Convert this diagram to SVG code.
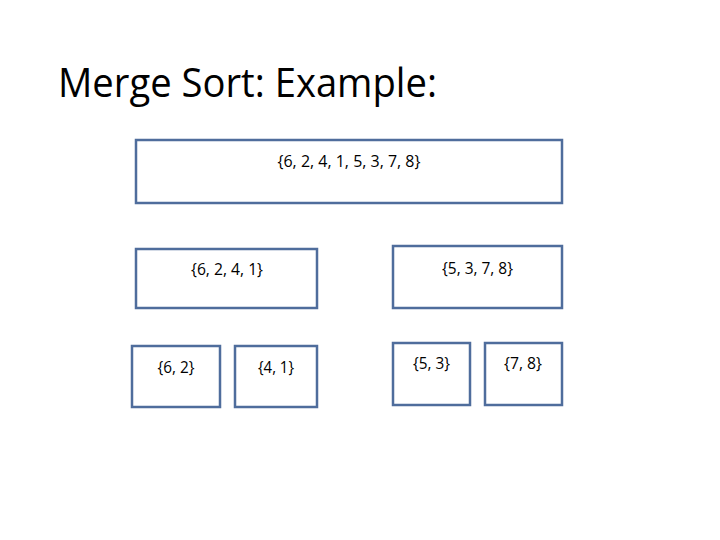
<svg xmlns="http://www.w3.org/2000/svg" width="720" height="540" viewBox="0 0 720 540">
<style>
.box{fill:#ffffff;stroke:#4f6d9c;stroke-width:2.5}
.lbl{font-family:"Open Sans","Liberation Sans",sans-serif;font-size:17px;fill:#000;text-anchor:middle}
.title{font-family:"Open Sans","Liberation Sans",sans-serif;font-size:41px;fill:#000}
</style>
<rect width="720" height="540" fill="#ffffff"/>
<text class="title" x="58" y="97" textLength="379" lengthAdjust="spacingAndGlyphs">Merge Sort: Example:</text>
<g id="connectors"></g>
<g id="n_all">
<rect class="box" x="136" y="140" width="426" height="63"/>
<text class="lbl" x="349" y="167" textLength="143" lengthAdjust="spacingAndGlyphs">{6, 2, 4, 1, 5, 3, 7, 8}</text>
</g>
<g id="n_left">
<rect class="box" x="136" y="249" width="181" height="59"/>
<text class="lbl" x="227" y="275" textLength="72" lengthAdjust="spacingAndGlyphs">{6, 2, 4, 1}</text>
</g>
<g id="n_right">
<rect class="box" x="393" y="246" width="169" height="62"/>
<text class="lbl" x="477.5" y="274" textLength="71" lengthAdjust="spacingAndGlyphs">{5, 3, 7, 8}</text>
</g>
<g id="n_62">
<rect class="box" x="132" y="346" width="88" height="61"/>
<text class="lbl" x="176" y="373" textLength="37" lengthAdjust="spacingAndGlyphs">{6, 2}</text>
</g>
<g id="n_41">
<rect class="box" x="235" y="346" width="82" height="61"/>
<text class="lbl" x="276" y="373" textLength="36" lengthAdjust="spacingAndGlyphs">{4, 1}</text>
</g>
<g id="n_53">
<rect class="box" x="393" y="343" width="77" height="62"/>
<text class="lbl" x="431.5" y="369" textLength="37" lengthAdjust="spacingAndGlyphs">{5, 3}</text>
</g>
<g id="n_78">
<rect class="box" x="485" y="343" width="77" height="62"/>
<text class="lbl" x="523" y="369" textLength="38" lengthAdjust="spacingAndGlyphs">{7, 8}</text>
</g>
</svg>
